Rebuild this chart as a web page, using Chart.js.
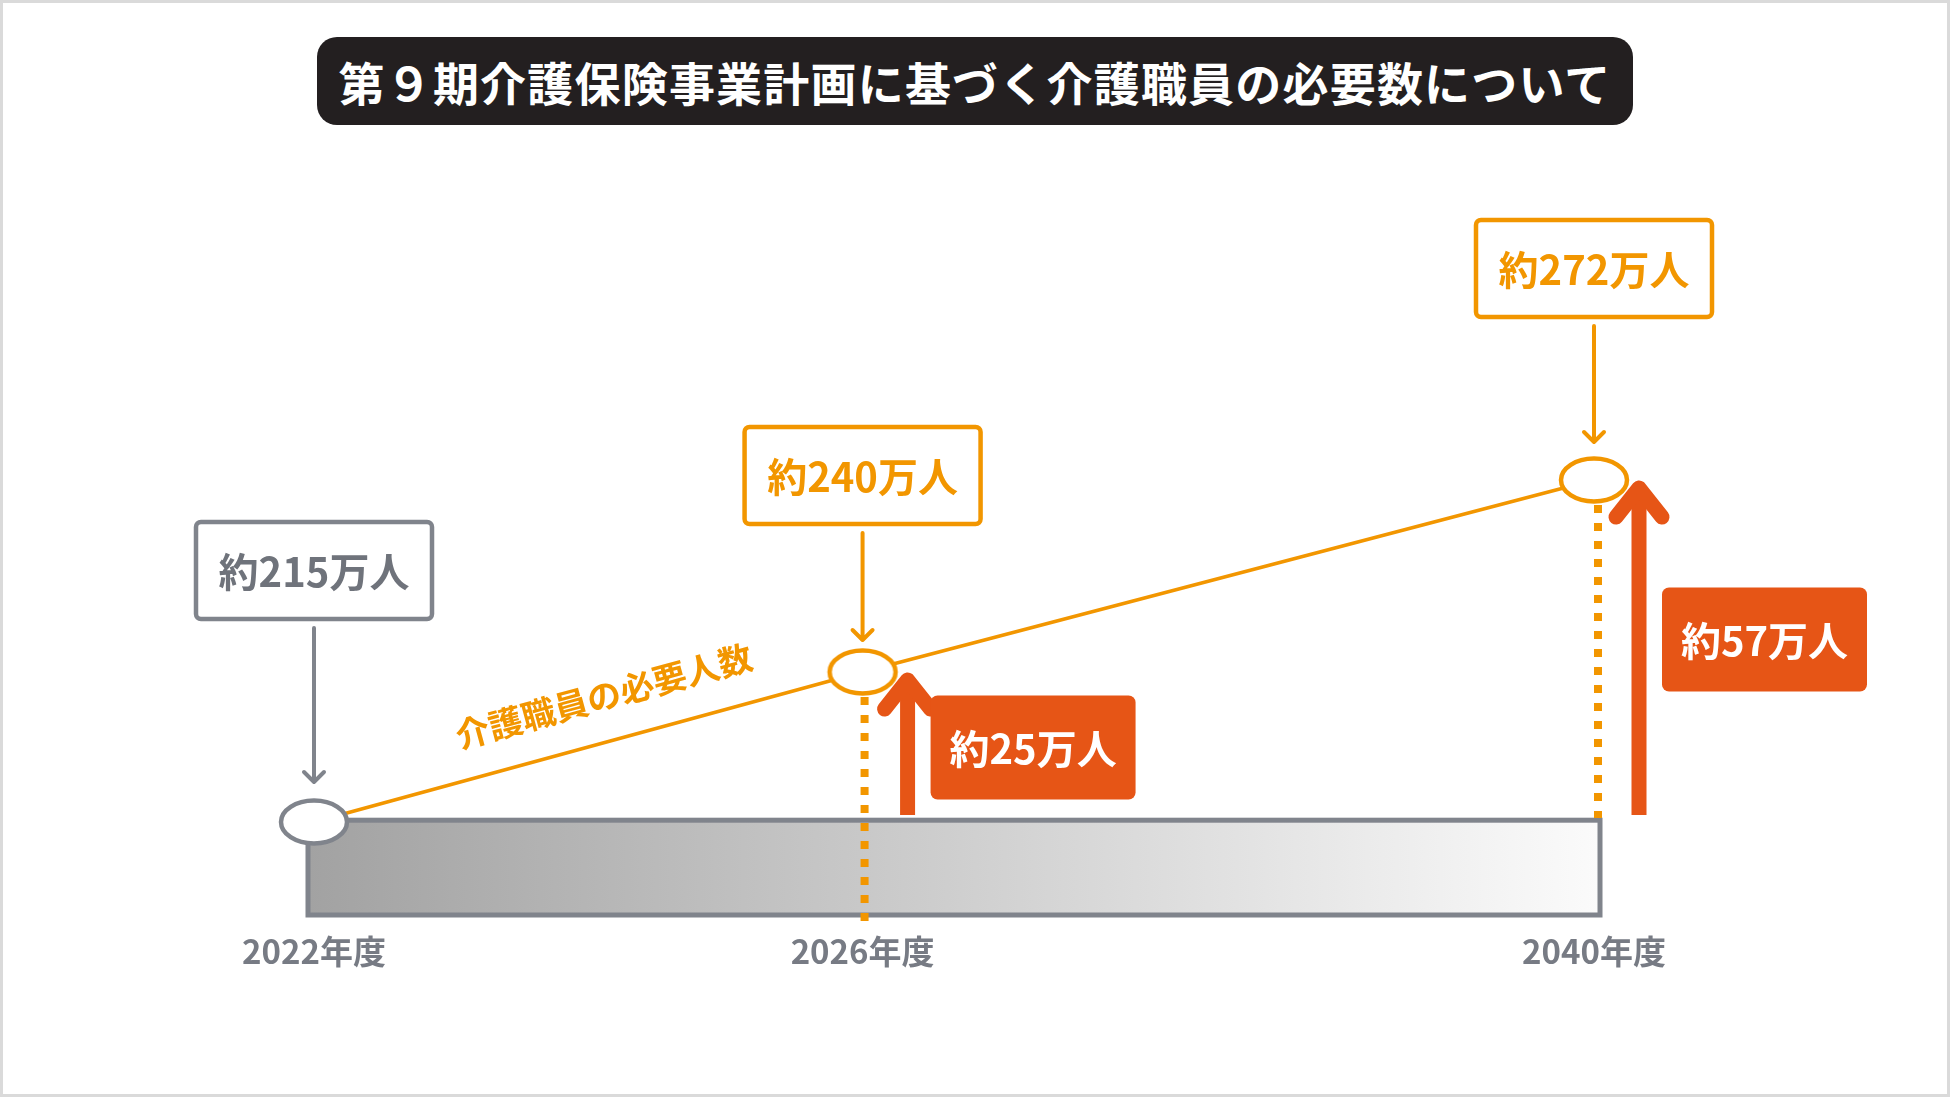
<!DOCTYPE html>
<html lang="ja">
<head>
<meta charset="utf-8">
<title>介護職員の必要数</title>
<script src="https://cdn.jsdelivr.net/npm/chart.js@4.4.1/dist/chart.umd.min.js"></script>
<style>
  html, body { margin: 0; padding: 0; background: #fff; }
  body { width: 1950px; height: 1097px; position: relative; overflow: hidden; font-family: 'Noto Sans CJK JP', sans-serif; }
  #chartBox { position: absolute; left: 0; top: 0; width: 1950px; height: 1097px; }
  #title {
    position: absolute; left: 317px; top: 37px; width: 1316px; height: 88px;
    background: #231f20; border-radius: 20px; color: #fff;
    font-weight: 700; font-size: 46px; line-height: 88px; text-align: center; letter-spacing: 1.2px;
  }
  #frame { position: absolute; inset: 0; border: 3px solid #dadada; box-sizing: border-box; pointer-events: none; }
</style>
</head>
<body>
<div id="chartBox"><canvas id="workersChart"></canvas></div>
<div id="title"></div>
<div id="frame"></div>
<script>
// Data (万人). Timeline slots: 2022 -> 2026 is 3 slots, 2026 -> 2040 is 4 slots
const categories = ['2022年度', '', '', '2026年度', '', '', '', '2040年度'];
const workers = [215, null, null, 240, null, null, null, 272];
const bandRange = [199.5, 215.3];   // grey base band (2022 level)
const yRange = [199.5, 300];
const seriesLabel = '介護職員の必要人数';
const titleText = '第９期介護保険事業計画に基づく介護職員の必要数について';

const ORANGE = '#F29600';
const RED = '#E65516';
const GRAY = '#80848C';
const GRAY_TEXT = '#6F737B';
const FONT = '"Noto Sans CJK JP", "Noto Sans", sans-serif';

document.getElementById('title').textContent = titleText;

// callout styling per data index
const callouts = {
    0: { color: GRAY, textColor: GRAY_TEXT, boxGap: 201, tipGap: 40 },
    3: { color: ORANGE, textColor: ORANGE, boxGap: 146, tipGap: 32, dotTo: 'below', dotDx: 2, redDy: 0 },
    7: { color: ORANGE, textColor: ORANGE, boxGap: 161, tipGap: 38, dotTo: 'band', dotDx: 4, redDy: -12 }
};

// ellipse point markers
function ellipseMarker(color) {
    const c = document.createElement('canvas');
    c.width = 84; c.height = 60;
    const g = c.getContext('2d');
    g.beginPath();
    g.ellipse(42, 30, 33, 21.5, 0, 0, Math.PI * 2);
    g.fillStyle = '#fff';
    g.fill();
    g.lineWidth = 4.5;
    g.strokeStyle = color;
    g.stroke();
    return c;
}
const grayMarker = ellipseMarker(GRAY);
const orangeMarker = ellipseMarker(ORANGE);

function downArrow(ctx, x, y0, y1, color) {
    ctx.save();
    ctx.strokeStyle = color;
    ctx.lineWidth = 4;
    ctx.lineCap = 'round';
    ctx.lineJoin = 'round';
    ctx.beginPath();
    ctx.moveTo(x, y0);
    ctx.lineTo(x, y1);
    ctx.moveTo(x - 10, y1 - 10);
    ctx.lineTo(x, y1);
    ctx.lineTo(x + 10, y1 - 10);
    ctx.stroke();
    ctx.restore();
}

const decorPlugin = {
    id: 'decor',
    beforeDatasetsDraw(chart) {
        const { ctx, scales } = chart;
        const x0 = scales.x.getPixelForValue(0) - 6;
        const x1 = scales.x.getPixelForValue(categories.length - 1) + 6;
        const yTop = scales.y.getPixelForValue(bandRange[1]);
        const yBot = scales.y.getPixelForValue(bandRange[0]);
        const grad = ctx.createLinearGradient(x0, 0, x1, 0);
        grad.addColorStop(0, '#a2a2a2');
        grad.addColorStop(1, '#fbfbfb');
        ctx.save();
        ctx.fillStyle = grad;
        ctx.fillRect(x0, yTop, x1 - x0, yBot - yTop);
        ctx.lineWidth = 5;
        ctx.strokeStyle = GRAY;
        ctx.strokeRect(x0, yTop, x1 - x0, yBot - yTop);
        ctx.restore();
    },
    afterDatasetsDraw(chart) {
        const { ctx, scales } = chart;
        const meta = chart.getDatasetMeta(0);
        const baseY = scales.y.getPixelForValue(workers[0]);
        const bandBottom = scales.y.getPixelForValue(bandRange[0]);

        workers.forEach((v, i) => {
            if (v === null) return;
            const pt = meta.data[i];
            const s = callouts[i];
            const px = pt.x, py = pt.y;

            // dotted guide down to the band
            if (s.dotTo) {
                const dx = px + s.dotDx;
                const yEnd = s.dotTo === 'band' ? baseY - 4 : bandBottom + 13;
                ctx.save();
                ctx.strokeStyle = ORANGE;
                ctx.lineWidth = 8;
                ctx.setLineDash([8, 10]);
                ctx.beginPath();
                ctx.moveTo(dx, py + 25);
                ctx.lineTo(dx, yEnd);
                ctx.stroke();
                ctx.restore();
            }

            // value callout box
            const bw = 240, bh = 101;
            const bx = px - bw / 2, by = py - s.boxGap - bh;
            ctx.save();
            ctx.beginPath();
            ctx.roundRect(bx + 2, by + 2, bw - 4, bh - 4, 5);
            ctx.fillStyle = '#fff';
            ctx.fill();
            ctx.lineWidth = 4.5;
            ctx.strokeStyle = s.color;
            ctx.stroke();
            ctx.fillStyle = s.textColor;
            ctx.font = 'bold 40px ' + FONT;
            ctx.textAlign = 'center';
            ctx.textBaseline = 'middle';
            ctx.fillText('約' + v + '万人', px, by + bh / 2 + 1);
            ctx.restore();
            downArrow(ctx, px, by + bh + 7, py - s.tipGap, s.color);

            // increase arrow + label
            if (i > 0) {
                const ax = px + 45;
                const tip = py + 8;
                const bottom = baseY - 7;
                ctx.save();
                ctx.strokeStyle = RED;
                ctx.lineWidth = 15;
                ctx.lineCap = 'butt';
                ctx.beginPath();
                ctx.moveTo(ax, bottom);
                ctx.lineTo(ax, tip);
                ctx.stroke();
                ctx.lineCap = 'round';
                ctx.lineJoin = 'round';
                ctx.beginPath();
                ctx.moveTo(ax - 23, tip + 29);
                ctx.lineTo(ax, tip);
                ctx.lineTo(ax + 23, tip + 29);
                ctx.stroke();

                const rw = 205, rh = 104;
                const rx = ax + 23, ry = (tip + bottom) / 2 + s.redDy - rh / 2;
                ctx.beginPath();
                ctx.roundRect(rx, ry, rw, rh, 7);
                ctx.fillStyle = RED;
                ctx.fill();
                ctx.fillStyle = '#fff';
                ctx.font = 'bold 40px ' + FONT;
                ctx.textAlign = 'center';
                ctx.textBaseline = 'middle';
                ctx.fillText('約' + (v - workers[0]) + '万人', rx + rw / 2, ry + rh / 2 + 1);
                ctx.restore();
            }
        });

        // series label along the first segment
        const a = meta.data[0], b = meta.data[3];
        const ang = Math.atan2(b.y - a.y, b.x - a.x);
        const t = 0.55;
        const cx = a.x + (b.x - a.x) * t + Math.sin(ang) * 45;
        const cy = a.y + (b.y - a.y) * t - Math.cos(ang) * 45;
        ctx.save();
        ctx.translate(cx, cy);
        ctx.rotate(ang);
        ctx.fillStyle = ORANGE;
        ctx.font = 'bold 34px ' + FONT;
        ctx.textAlign = 'center';
        ctx.textBaseline = 'middle';
        ctx.fillText(seriesLabel, 0, 0);
        ctx.restore();
    }
};

function build() {
    new Chart(document.getElementById('workersChart'), {
        type: 'line',
        data: {
            labels: categories,
            datasets: [{
                label: seriesLabel,
                data: workers,
                spanGaps: true,
                clip: false,
                borderColor: ORANGE,
                borderWidth: 3.5,
                pointRadius: 12,
                pointStyle: (c) => c.dataIndex === 0 ? grayMarker : orangeMarker
            }]
        },
        options: {
            responsive: true,
            maintainAspectRatio: false,
            animation: false,
            events: [],
            layout: { padding: { left: 314, right: 356, top: 312, bottom: 0 } },
            plugins: {
                legend: { display: false },
                tooltip: { enabled: false }
            },
            scales: {
                x: {
                    offset: false,
                    grid: { display: false, drawTicks: false },
                    border: { display: false },
                    ticks: {
                        autoSkip: false,
                        maxRotation: 0,
                        padding: 17,
                        color: '#777B84',
                        font: { family: FONT, size: 33, weight: 'bold' }
                    },
                    afterFit: (axis) => { axis.height = 182; }
                },
                y: {
                    display: false,
                    min: yRange[0],
                    max: yRange[1]
                }
            }
        },
        plugins: [decorPlugin]
    });
}

Promise.all([
    document.fonts.load('bold 40px "Noto Sans CJK JP"'),
    document.fonts.load('bold 46px "Noto Sans CJK JP"')
]).catch(() => {}).then(build);
</script>
</body>
</html>
